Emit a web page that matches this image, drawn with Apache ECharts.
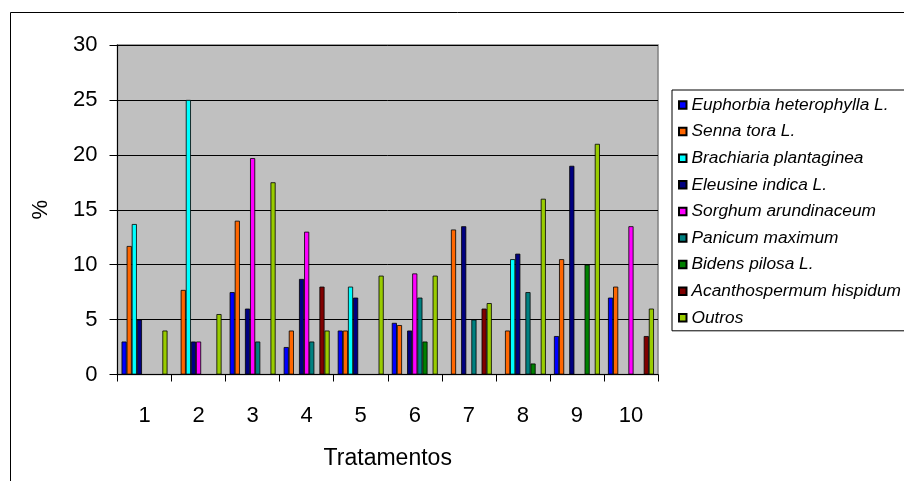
<!DOCTYPE html>
<html>
<head>
<meta charset="utf-8">
<script src="https://cdn.jsdelivr.net/npm/echarts@6/dist/echarts.min.js"></script>
<style>
html,body{margin:0;padding:0;background:#fff;}
#chart{width:904px;height:481px;}
</style>
</head>
<body>
<div id="chart"></div>
<script>
const categories = ['1','2','3','4','5','6','7','8','9','10'];
const euphorbia      = [3, 0, 7.5, 2.5, 4, 4.7, 0, 0, 3.5, 7];
const senna          = [11.7, 7.7, 14, 4, 4, 4.5, 13.2, 4, 10.5, 8];
const brachiaria     = [13.7, 25, 0, 0, 8, 0, 0, 10.5, 0, 0];
const eleusine       = [5, 3, 6, 8.7, 7, 4, 13.5, 11, 19, 0];
const sorghum        = [0, 3, 19.7, 13, 0, 9.2, 0, 0, 0, 13.5];
const panicum        = [0, 0, 3, 3, 0, 7, 5, 7.5, 0, 0];
const bidens         = [0, 0, 0, 0, 0, 3, 0, 1, 10, 0];
const acanthospermum = [0, 0, 0, 8, 0, 0, 6, 0, 0, 3.5];
const outros         = [4, 5.5, 17.5, 4, 9, 9, 6.5, 16, 21, 6];
const yTicks = [0, 5, 10, 15, 20, 25, 30];

const seriesDefs = [
  ['Euphorbia heterophylla L.', euphorbia, '#0000FF'],
  ['Senna tora L.', senna, '#FF6600'],
  ['Brachiaria plantaginea', brachiaria, '#00FFFF'],
  ['Eleusine indica L.', eleusine, '#000080'],
  ['Sorghum arundinaceum', sorghum, '#FF00FF'],
  ['Panicum maximum', panicum, '#008080'],
  ['Bidens pilosa L.', bidens, '#008000'],
  ['Acanthospermum hispidum', acanthospermum, '#800000'],
  ['Outros', outros, '#99CC00']
];

const font = 'Liberation Sans, Arial, sans-serif';
const chart = echarts.init(document.getElementById('chart'), null, {renderer: 'canvas'});
chart.setOption({
  animation: false,
  backgroundColor: '#fff',
  graphic: [{
    type: 'rect', z: -10,
    shape: {x: 10.5, y: 12.5, width: 1000, height: 1000},
    style: {fill: 'none', stroke: '#000', lineWidth: 1}
  }],
  grid: {
    left: 117.5, right: 246, top: 45, bottom: 106.5,
    show: true, backgroundColor: '#C0C0C0', borderColor: '#808080', borderWidth: 1.5
  },
  legend: {
    orient: 'vertical', left: 672, top: 90,
    padding: [5, 10, 3, 6],
    itemGap: 6.6, itemWidth: 7.5, itemHeight: 7.5, itemTextGap: 10,
    backgroundColor: '#fff', borderColor: '#000', borderWidth: 1,
    icon: 'rect',
    textStyle: {fontFamily: font, fontStyle: 'italic', fontSize: 17.3, color: '#000', lineHeight: 20},
    data: seriesDefs.map(d => d[0])
  },
  xAxis: {
    type: 'category', data: categories,
    name: 'Tratamentos', nameLocation: 'middle', nameGap: 73,
    nameTextStyle: {fontFamily: font, fontSize: 23, color: '#000'},
    axisLine: {show: true, lineStyle: {color: '#000', width: 1}},
    axisTick: {show: true, length: 7, lineStyle: {color: '#000'}},
    axisLabel: {fontFamily: font, fontSize: 22, color: '#000', margin: 30}
  },
  yAxis: {
    type: 'value', min: 0, max: 30, interval: 5,
    name: '%', nameLocation: 'middle', nameGap: 66, nameRotate: 90,
    nameTextStyle: {fontFamily: font, fontSize: 22, color: '#000'},
    axisLine: {show: true, lineStyle: {color: '#000', width: 1}},
    axisTick: {show: true, length: 8, lineStyle: {color: '#000'}},
    axisLabel: {fontFamily: font, fontSize: 22, color: '#000', margin: 20,
      formatter: v => yTicks.indexOf(v) >= 0 ? String(v) : ''},
    splitLine: {show: true, lineStyle: {color: '#000', width: 1}}
  },
  series: seriesDefs.map(d => ({
    name: d[0], type: 'bar', data: d[1],
    barGap: '0%', barCategoryGap: '15%',
    itemStyle: {color: d[2], borderColor: '#000', borderWidth: 0.8}
  }))
});
</script>
</body>
</html>
